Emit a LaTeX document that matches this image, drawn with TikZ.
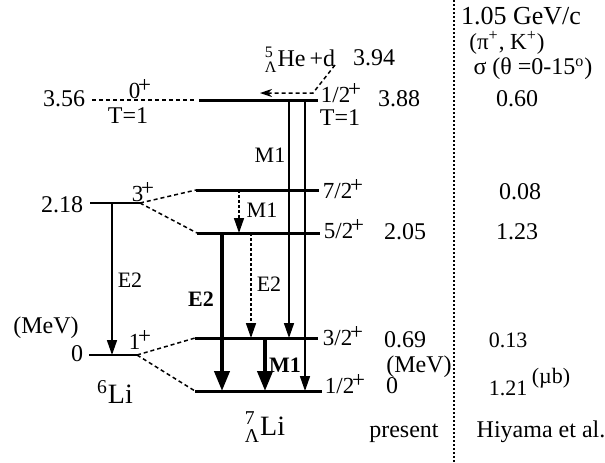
\documentclass[tikz,border=0pt]{standalone}
\usepackage{fontspec}
\setmainfont{Liberation Serif}
\usepackage{amsmath}
\usetikzlibrary{arrows.meta,positioning}

\newcommand\jpar[1]{#1\kern-0.1em\raisebox{0.62ex}{+}}

\tikzset{
  lvl/.style={line width=1.5pt},
  lvlthin/.style={line width=1pt},
  link/.style={line width=0.75pt,dash pattern=on 2pt off 1.5pt},
  tr/.style={line width=0.8pt,-{Triangle[width=5pt,length=7.5pt]}},
  trbold/.style={line width=2pt,-{Triangle[width=7.5pt,length=10pt]}},
  trdash/.style={tr,dash pattern=on 1.5pt off 1pt},
  lab/.style={inner sep=0pt,font=\fontsize{11}{12}\selectfont},
  spin/.style={inner sep=0pt,font=\fontsize{11.5}{12}\selectfont},
  num/.style={inner sep=0pt,font=\fontsize{12}{13}\selectfont},
  big/.style={inner sep=0pt,font=\fontsize{14}{15}\selectfont},
}

\begin{document}
\begin{tikzpicture}[x=0.5pt,y=-0.5pt,>=Stealth]
  \useasboundingbox (0,0) rectangle (605,462);
  % levels of 6Li
  \coordinate (zL) at (92,100);  \coordinate (zR) at (197,100);
  \coordinate (tL) at (90,203);  \coordinate (tR) at (140,203);
  \coordinate (oL) at (89,355);  \coordinate (oR) at (137,355);
  % levels of 7Li (hyper)
  \coordinate (uL) at (199,100);   \coordinate (uR) at (318,100);
  \coordinate (sevL) at (196,190); \coordinate (sevR) at (319,190);
  \coordinate (fivL) at (197,233); \coordinate (fivR) at (320,233);
  \coordinate (thrL) at (195,338); \coordinate (thrR) at (318,338);
  \coordinate (gsL) at (195,391);  \coordinate (gsR) at (322,391);
  \draw[link] (zL) -- (zR);
  \draw[lvlthin] (tL) -- (tR);
  \draw[lvlthin] (oL) -- (oR);
  \foreach \a/\b in {uL/uR,sevL/sevR,fivL/fivR,thrL/thrR,gsL/gsR}
    \draw[lvl] (\a) -- (\b);
  \draw[link] (tR) -- (sevL);
  \draw[link] (tR) -- (fivL);
  \draw[link] (oR) -- (thrL);
  \draw[link] (oR) -- (gsL);
  % transitions
  \coordinate (xe) at (112,0);
  \coordinate (xa) at (222,0);
  \coordinate (xb) at (239,0);
  \coordinate (xc) at (251,0);
  \coordinate (xd) at (265,0);
  \coordinate (xf) at (289,0);
  \coordinate (xg) at (305,0);
  \draw[tr] (xe |- tL) -- (xe |- oL);
  \draw[trbold] (xa |- fivL) -- (xa |- gsL);
  \draw[trdash] (xb |- sevL) -- (xb |- fivL);
  \draw[trdash] (xc |- fivL) -- (xc |- thrL);
  \draw[trbold] (xd |- thrL) -- (xd |- gsL);
  \draw[tr] (xf |- uL) -- (xf |- thrL);
  \draw[tr] (xg |- uL) -- (xg |- gsL);
  % threshold
  \coordinate (thA) at (335,65);
  \coordinate (thB) at (313,93);
  \coordinate (thC) at (260,93);
  \draw[link,-{Stealth[width=4pt,length=6pt]}] (thA) -- (thB) -- (thC);
  % separator
  \coordinate (sepT) at (454,0);
  \coordinate (sepB) at (454,462);
  \draw[line width=0.8pt,dash pattern=on 1.2pt off 0.8pt] (sepT) -- (sepB);
  % labels 6Li
  \node[num] (e356) at (64,99) {3.56};
  \node[spin] (j0) at (140,89) {\jpar{0}};
  \node[num] (iso0) at (128,116) {T=1};
  \node[num] (e218) at (62,205) {2.18};
  \node[spin] (j3) at (143,192) {\jpar{3}};
  \node[num] (mevL) at (46,328) {(MeV)};
  \node[num] (e0) at (77,354) {0};
  \node[spin] (j1) at (140,340) {\jpar{1}};
  \node[big] (li6) at (115,392) {\textsuperscript{6}Li};
  \node[lab] (e2a) at (130,280) {E2};
  % labels 7Li
  \node[lab] (e2b) at (201,299) {\textbf{E2}};
  \node[lab] (e2c) at (269,284) {E2};
  \node[lab] (m1a) at (270,155) {M1};
  \node[lab] (m1b) at (262,210) {M1};
  \node[lab] (m1c) at (285,365) {\textbf{M1}};
  \node[num] (he5) at (300,60) {$^{\text{5}}_{\text{Λ}}$He\,+d};
  \node[num] (e394) at (374,58) {3.94};
  \node[spin] (j12u) at (341,93) {\jpar{1/2}};
  \node[num] (e388) at (399,99) {3.88};
  \node[num] (iso1) at (340,118) {T=1};
  \node[spin] (j72) at (343,189) {\jpar{7/2}};
  \node[spin] (j52) at (344,229) {\jpar{5/2}};
  \node[num] (e205) at (405,232) {2.05};
  \node[spin] (j32) at (343,336) {\jpar{3/2}};
  \node[num] (e069) at (405,340) {0.69};
  \node[num] (mevR) at (419,367) {(MeV)};
  \node[spin] (j12g) at (345,384) {\jpar{1/2}};
  \node[num] (egs) at (392,386) {0};
  \node[big] (li7) at (265,427) {$^{\text{7}}_{\text{Λ}}$Li};
  \node[num] (pres) at (404,433) {present};
  % cross sections
  \node[inner sep=0pt,font=\fontsize{13}{14}\selectfont] (mom) at (521,16) {1.05 GeV/c};
  \node[inner sep=0pt,font=\fontsize{11.5}{12}\selectfont] (reac) at (507,43) {(π\textsuperscript{+}, K\textsuperscript{+})};
  \node[num] (sig) at (533,69) {σ (θ =0-15\textsuperscript{o})};
  \node[num] (c060) at (517,99) {0.60};
  \node[num] (c008) at (520,192) {0.08};
  \node[num] (c123) at (517,232) {1.23};
  \node[lab] (c013) at (508,340) {0.13};
  \node[lab] (c121) at (508,388) {1.21};
  \node[lab] (ub) at (551,378) {(µb)};
  \node[num] (hiy) at (541,432) {Hiyama et al.};
\end{tikzpicture}
\end{document}
